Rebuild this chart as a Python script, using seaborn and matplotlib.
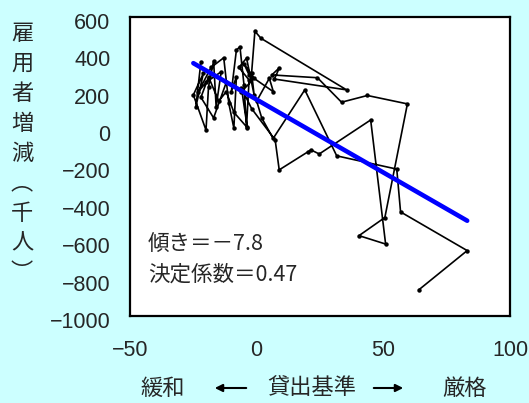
import matplotlib
matplotlib.use("Agg")
import matplotlib.pyplot as plt
import matplotlib.transforms as mtrans
import numpy as np
import pandas as pd
import seaborn as sb

# lending standards DI (x) vs change in employment, thousands (y), in time order
lending_std = [-22, -24, -21, -25, -20, -19, -17, -16, -14, -20, -23, -18, -13, -11, -9, -8, -10,
               -8, -6.6, -5, -4, -3, -7, -4, -1, -2, -0.7, 1.7,
               35.5, 7, 9, 6, 24, 33.5, 43.7, 59.5, 50.6, 40.4, 50.9, 45, 24.7, 21.4, 20.4, 8.9, 7.3,
               -2, -6, -3.7, -9, -12, -15, -19, -22, -17, -12, -6, -1, -5, -3, 6.6, 5, 0, 2, 6.5,
               19, 31.6, 55.3, 56.8, 83.1, 64]
employment_chg = [361, 120, 300, 183, -5, 227, 365, 120, 307, 250, 200, 330, 382, 138, 5, 280, 200,
                  423, 441, 236, 13, 263, 330, 380, 183, 300, 524, 486,
                  210, 268, 329, 290, 275, 144, 180, 135, -473, -570, -615, 49, -133, -111, -120, -218, -58,
                  110, 220, 8, 90, 200, 150, 280, 170, 60, 250, 200, 272, 350, 290, 200, 272, 150, 60, -50,
                  210, -143, -214, -443, -650, -860]

fit_slope = -7.8
fit_intercept = 158
r_squared = 0.47

x_ticks = [-50, 0, 50, 100]
y_ticks = [-1000, -800, -600, -400, -200, 0, 200, 400, 600]

sb.set_style("white")
jp = ["Noto Sans CJK JP", "DejaVu Sans"]
plt.rcParams["font.family"] = ["Liberation Sans", "DejaVu Sans"]

fig = plt.figure(figsize=(5.29, 4.03), dpi=100, facecolor="#ccffff")
ax = fig.add_axes([130 / 529, 1 - 316 / 403, 380 / 529, 299 / 403])
ax.set_facecolor("white")

sb.lineplot(x=lending_std, y=employment_chg, sort=False, estimator=None, ax=ax,
            color="black", lw=1.2, marker="o", markersize=3.2, markeredgewidth=0)

fit_x = np.array([min(lending_std), max(lending_std)])
fit = pd.DataFrame({"x": fit_x, "y": fit_intercept + fit_slope * fit_x})
sb.lineplot(data=fit, x="x", y="y", ax=ax, color="#0000ff", lw=3.3)

ax.set_xlim(-50, 100)
ax.set_ylim(-1000, 600)
ax.set_xticks(x_ticks)
ax.set_yticks(y_ticks)
ax.tick_params(direction="in", length=6, width=1.2, labelsize=15.5, color="black")
ax.tick_params(axis="x", pad=17)
ax.tick_params(axis="y", pad=14)
# tick labels sit a little low in the original
shift = mtrans.ScaledTranslation(0, -4 / 100, fig.dpi_scale_trans)
for lab in ax.get_yticklabels():
    lab.set_transform(lab.get_transform() + shift)
for s in ax.spines.values():
    s.set_visible(True)
    s.set_color("black")
    s.set_linewidth(1.6)
ax.set_xlabel("")
ax.set_ylabel("")

ax.text(-43, -619, "傾き＝－7.8", va="center", ha="left", fontsize=15.5, family=jp)
ax.text(-43, -780, f"決定係数＝{r_squared}", va="center", ha="left", fontsize=15.5, family=jp)

# vertical y label
for i, ch in enumerate("雇用者増減︵千人︶"):
    fig.text(22 / 529, 1 - (33 + 30 * i) / 403, ch, ha="center", va="center",
             fontsize=16, family=jp)

# x label with arrows
yl = 1 - 388 / 403
fig.text(163 / 529, yl, "緩和", ha="center", va="center", fontsize=16, family=jp)
fig.text(312 / 529, yl, "貸出基準", ha="center", va="center", fontsize=16, family=jp)
fig.text(465 / 529, yl, "厳格", ha="center", va="center", fontsize=16, family=jp)
arrow = dict(arrowstyle="-|>", lw=1.5, color="black", mutation_scale=11)
ax.annotate("", xy=(212 / 529, yl), xytext=(249 / 529, yl), xycoords="figure fraction",
            textcoords="figure fraction", arrowprops=arrow)
ax.annotate("", xy=(406 / 529, yl), xytext=(371 / 529, yl), xycoords="figure fraction",
            textcoords="figure fraction", arrowprops=arrow)

fig.savefig("out.png", dpi=100, facecolor=fig.get_facecolor())
